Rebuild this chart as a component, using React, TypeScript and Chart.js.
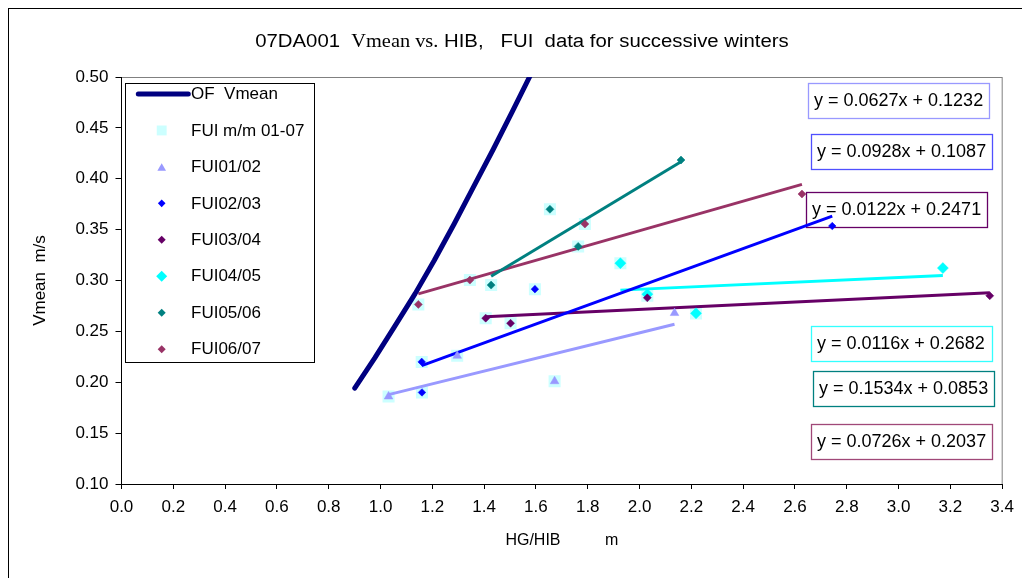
import React, { useEffect, useRef } from 'react';
import { Chart, registerables } from 'chart.js';

Chart.register(...registerables);

// ---------- data ----------
const ofVmeanX = [0.9005, 0.9774, 1.0541, 1.1336, 1.2078, 1.2846, 1.3575, 1.4343, 1.5111, 1.5814];
const ofVmeanY = [0.1942, 0.2237, 0.2546, 0.2871, 0.3199, 0.3558, 0.3913, 0.4285, 0.4673, 0.5032];

const fuiMmX = [1.031, 1.16, 1.159, 1.296, 1.672, 1.406, 1.502, 2.03, 1.926, 2.218, 1.427, 1.654, 1.763, 1.146, 1.345, 1.789, 1.596];
const fuiMmY = [0.186, 0.19, 0.22, 0.226, 0.201, 0.263, 0.258, 0.285, 0.317, 0.2677, 0.2955, 0.37, 0.3335, 0.2765, 0.3004, 0.3555, 0.2915];

const fui0102X = [1.031, 1.296, 1.672, 2.135];
const fui0102Y = [0.186, 0.226, 0.201, 0.268];
const fui0203X = [1.16, 1.159, 1.596, 2.744];
const fui0203Y = [0.19, 0.22, 0.2915, 0.3535];
const fui0304X = [1.406, 1.502, 2.03, 3.352];
const fui0304Y = [0.263, 0.258, 0.283, 0.285];
const fui0405X = [1.926, 2.03, 2.218, 3.171];
const fui0405Y = [0.317, 0.2866, 0.2677, 0.3122];
const fui0506X = [1.427, 1.654, 1.763, 2.16];
const fui0506Y = [0.2955, 0.37, 0.3335, 0.4184];
const fui0607X = [1.146, 1.345, 1.789, 2.627];
const fui0607Y = [0.2765, 0.3004, 0.3555, 0.385];

const seriesLabels = ['FUI01/02', 'FUI02/03', 'FUI03/04', 'FUI04/05', 'FUI05/06', 'FUI06/07'];
const seriesX = [fui0102X, fui0203X, fui0304X, fui0405X, fui0506X, fui0607X];
const seriesY = [fui0102Y, fui0203Y, fui0304Y, fui0405Y, fui0506Y, fui0607Y];

// linear trendline coefficients printed on the chart
const trendSlopes = [0.0627, 0.0928, 0.0122, 0.0116, 0.1534, 0.0726];
const trendIntercepts = [0.1232, 0.1087, 0.2471, 0.2682, 0.0853, 0.2037];

const xTickMin = 0;
const xTickMax = 3.4;
const xTickStep = 0.2;
const yTickMin = 0.1;
const yTickMax = 0.5;
const yTickStep = 0.05;

const titleParts = ['07DA001  ', 'Vmean vs.', ' HIB,   FUI  data for successive winters'];
const xTitle = 'HG/HIB          m';
const yTitle = 'Vmean  m/s';
const ofLabel = 'OF  Vmean';
const mmLabel = 'FUI m/m 01-07';

// ---------- styles ----------
const SANS = '"Liberation Sans", Arial, Helvetica, sans-serif';
const SERIF = '"Liberation Serif", "Times New Roman", serif';
const seriesColors = ['#9999FF', '#0000FF', '#660066', '#00FFFF', '#008080', '#993366'];
const seriesStyles = ['triangle', 'rectRot', 'rectRot', 'rectRot', 'rectRot', 'rectRot'];
const seriesRadius = [5, 3.8, 4, 5.5, 4, 4];
const eqBoxBorders = ['#9999FF', '#5050FF', '#660066', '#33FFFF', '#008080', '#A04878'];
// equation box placement relative to the plot area (right edge, top edge)
const eqBoxPlace = [
  { dx: -194, dy: 6.3 },
  { dx: -191, dy: 57.3 },
  { dx: -196, dy: 115.3 },
  { dx: -191, dy: 248.7 },
  { dx: -189, dy: 294 },
  { dx: -191, dy: 347.3 },
];

function drawMarker(ctx: CanvasRenderingContext2D, style: string, x: number, y: number, r: number, color: string) {
  ctx.fillStyle = color;
  ctx.beginPath();
  if (style === 'rect') {
    const s = r * Math.SQRT1_2;
    ctx.rect(x - s, y - s, 2 * s, 2 * s);
  } else if (style === 'triangle') {
    for (let k = 0; k < 3; k++) {
      const a = -Math.PI / 2 + (k * 2 * Math.PI) / 3;
      const px = x + Math.cos(a) * r;
      const py = y + Math.sin(a) * r + r / 4;
      if (k === 0) ctx.moveTo(px, py);
      else ctx.lineTo(px, py);
    }
  } else {
    ctx.moveTo(x - r, y);
    ctx.lineTo(x, y + r);
    ctx.lineTo(x + r, y);
    ctx.lineTo(x, y - r);
  }
  ctx.closePath();
  ctx.fill();
}

const chromePlugin = {
  id: 'chrome',
  beforeDraw(chart: any) {
    const { ctx, chartArea: a } = chart;
    ctx.save();
    ctx.fillStyle = '#ffffff';
    ctx.fillRect(0, 0, chart.width, chart.height);
    ctx.strokeStyle = '#000000';
    ctx.lineWidth = 1;
    ctx.strokeRect(0.5, 0.5, chart.width + 20, chart.height + 20);
    ctx.strokeStyle = '#808080';
    ctx.strokeRect(a.left, a.top + 0.5, a.right - a.left, a.bottom - a.top);
    // title with mixed fonts
    const fonts = ['18px ' + SANS, '18px ' + SERIF, '18px ' + SANS];
    let total = 0;
    const widths = titleParts.map((t, i) => {
      ctx.font = fonts[i];
      const w = ctx.measureText(t).width;
      total += w;
      return w;
    });
    const stretch = 1.13;
    const cx = 514;
    const cy = 34;
    ctx.translate(cx, cy);
    ctx.scale(stretch, 1);
    let x = -total / 2;
    ctx.fillStyle = '#000';
    ctx.textBaseline = 'middle';
    ctx.textAlign = 'left';
    titleParts.forEach((t, i) => {
      ctx.font = fonts[i];
      ctx.fillText(t, x, 0);
      x += widths[i];
    });
    ctx.restore();
  },
  beforeDatasetsDraw(chart: any) {
    const { ctx, chartArea: a } = chart;
    ctx.save();
    ctx.font = '18px ' + SANS;
    ctx.textBaseline = 'middle';
    ctx.textAlign = 'left';
    trendSlopes.forEach((m, i) => {
      const p = eqBoxPlace[i];
      const bx = Math.round(a.right + p.dx);
      const by = Math.round(a.top + p.dy);
      ctx.fillStyle = '#fff';
      ctx.fillRect(bx, by, 181, 35);
      ctx.strokeStyle = eqBoxBorders[i];
      ctx.lineWidth = 1.3;
      ctx.strokeRect(bx + 0.5, by + 0.5, 181, 35);
      ctx.fillStyle = '#000';
      const txt = 'y = ' + m.toFixed(4) + 'x + ' + trendIntercepts[i].toFixed(4);
      ctx.fillText(txt, bx + 6, by + 18);
    });
    ctx.restore();
  },
  afterDraw(chart: any) {
    const { ctx, chartArea: a } = chart;
    ctx.save();
    // legend
    const lx = a.left + 3.5;
    const ly = a.top + 6.3;
    const lw = 189;
    const lh = 279;
    ctx.fillStyle = '#fff';
    ctx.fillRect(Math.round(lx), Math.round(ly), lw, lh);
    ctx.strokeStyle = '#000';
    ctx.lineWidth = 1;
    ctx.strokeRect(Math.round(lx) + 0.5, Math.round(ly) + 0.5, lw, lh);
    const items = chart.data.datasets.filter((d: any) => d.inLegend);
    ctx.font = '17px ' + SANS;
    ctx.textBaseline = 'middle';
    ctx.textAlign = 'left';
    items.forEach((d: any, i: number) => {
      const y = ly + 10.7 + i * 36.45;
      if (d.legendKind === 'line') {
        ctx.strokeStyle = d.borderColor;
        ctx.lineWidth = d.borderWidth;
        ctx.lineCap = 'round';
        ctx.beginPath();
        ctx.moveTo(lx + 13.3, y);
        ctx.lineTo(lx + 63.3, y);
        ctx.stroke();
      } else {
        const r = d.pointStyle === 'rect' ? 7 : d.pointRadius;
        drawMarker(ctx, d.pointStyle, lx + 36.7, y, r, d.backgroundColor);
      }
      ctx.fillStyle = '#000';
      ctx.fillText(d.label, lx + 66, y + 0.5);
    });
    ctx.restore();
  },
};

export default function App() {
  const ref = useRef<HTMLCanvasElement | null>(null);

  useEffect(() => {
    if (!ref.current) return;
    const datasets: any[] = [];
    datasets.push({
      label: ofLabel,
      data: ofVmeanX.map((x, i) => ({ x, y: ofVmeanY[i] })),
      showLine: true,
      borderColor: '#000080',
      backgroundColor: '#000080',
      borderWidth: 5,
      pointRadius: 0,
      tension: 0,
      borderJoinStyle: 'round',
      borderCapStyle: 'round',
      order: 0,
      inLegend: true,
      legendKind: 'line',
    });
    datasets.push({
      label: mmLabel,
      data: fuiMmX.map((x, i) => ({ x, y: fuiMmY[i] })),
      showLine: false,
      pointStyle: 'rect',
      pointRadius: 8.5,
      pointBorderWidth: 0,
      backgroundColor: '#CCFFFF',
      borderColor: '#CCFFFF',
      order: 3,
      inLegend: true,
    });
    seriesLabels.forEach((lab, s) => {
      datasets.push({
        label: lab,
        data: seriesX[s].map((x, i) => ({ x, y: seriesY[s][i] })),
        showLine: false,
        pointStyle: seriesStyles[s],
        pointRadius: seriesRadius[s],
        pointBorderWidth: 0.5,
        backgroundColor: seriesColors[s],
        borderColor: seriesColors[s],
        order: 1,
        inLegend: true,
      });
    });
    seriesLabels.forEach((lab, s) => {
      const xs = seriesX[s];
      const x0 = Math.min(...xs);
      const x1 = Math.max(...xs);
      datasets.push({
        label: lab + ' trend',
        data: [
          { x: x0, y: trendSlopes[s] * x0 + trendIntercepts[s] },
          { x: x1, y: trendSlopes[s] * x1 + trendIntercepts[s] },
        ],
        showLine: true,
        pointRadius: 0,
        borderWidth: 3,
        borderColor: seriesColors[s],
        backgroundColor: seriesColors[s],
        order: 2,
        inLegend: false,
      });
    });

    Chart.defaults.font.family = SANS;
    Chart.defaults.color = '#000';

    const chart = new Chart(ref.current, {
      type: 'scatter',
      data: { datasets },
      options: {
        animation: false,
        responsive: false,
        maintainAspectRatio: false,
        events: [],
        layout: { padding: { top: 69, right: 15.5, left: 0, bottom: 0 } },
        plugins: {
          legend: { display: false },
          title: { display: false },
          tooltip: { enabled: false },
        },
        scales: {
          x: {
            type: 'linear',
            min: xTickMin,
            max: xTickMax,
            ticks: {
              stepSize: xTickStep,
              color: '#000',
              font: { family: SANS, size: 17 },
              padding: 8,
              maxRotation: 0,
              autoSkip: false,
              callback: (v: any) => Number(v).toFixed(1),
            },
            grid: { drawOnChartArea: false, drawTicks: true, tickLength: 5, tickColor: '#000' },
            border: { display: true, color: '#000', width: 1 },
            title: {
              display: true,
              text: xTitle,
              color: '#000',
              font: { family: SANS, size: 16 },
              padding: { top: 0, bottom: 28 },
            },
            afterFit: (s: any) => {
              s.height = 94;
            },
          },
          y: {
            type: 'linear',
            min: yTickMin,
            max: yTickMax,
            ticks: {
              stepSize: yTickStep,
              color: '#000',
              font: { family: SANS, size: 17 },
              padding: 7,
              callback: (v: any) => Number(v).toFixed(2),
            },
            grid: { drawOnChartArea: false, drawTicks: true, tickLength: 6, tickColor: '#000' },
            border: { display: true, color: '#000', width: 1 },
            title: {
              display: true,
              text: yTitle,
              color: '#000',
              font: { family: SANS, size: 17 },
              padding: { top: 22, bottom: 0 },
            },
            afterFit: (s: any) => {
              s.width = 113.5;
            },
          },
        },
      },
      plugins: [chromePlugin],
    } as any);
    return () => chart.destroy();
  }, []);

  return (
    <div style={{ position: 'fixed', left: 8, top: 8, width: 1014, height: 570 }}>
      <canvas ref={ref} width={1014} height={570} style={{ display: 'block' }} />
    </div>
  );
}
